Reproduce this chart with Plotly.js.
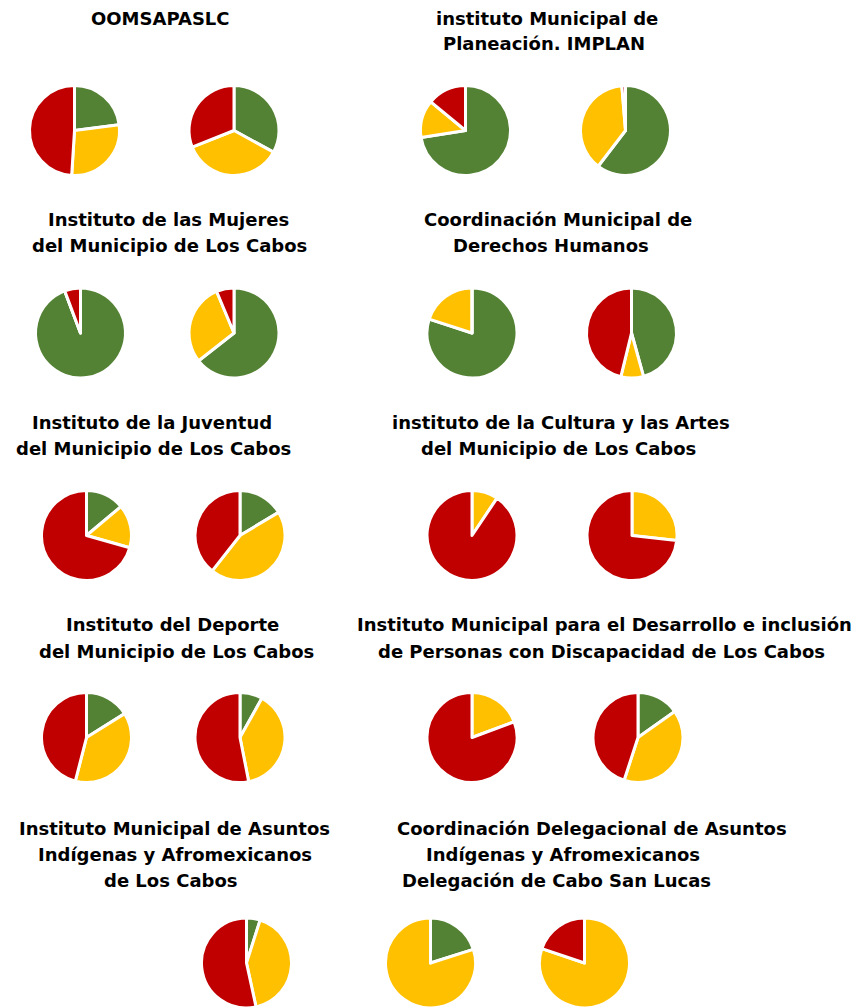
<!DOCTYPE html>
<html>
<head>
<meta charset="utf-8">
<script src="https://cdn.plot.ly/plotly-3.0.1.min.js"></script>
<style>html,body{margin:0;padding:0;background:#fff;overflow:hidden}#chart{width:856px;height:1008px}</style>
</head>
<body>
<div id="chart"></div>
<script>
// Categories (slice order, clockwise from 12 o'clock)
const categories = ['Verde', 'Amarillo', 'Rojo'];

// Titles (one entry per organism, lines)
const titles = [
  ['OOMSAPASLC'],
  ['instituto Municipal de', 'Planeación. IMPLAN'],
  ['Instituto de las Mujeres', 'del Municipio de Los Cabos'],
  ['Coordinación Municipal de', 'Derechos Humanos'],
  ['Instituto de la Juventud', 'del Municipio de Los Cabos'],
  ['instituto de la Cultura y las Artes', 'del Municipio de Los Cabos'],
  ['Instituto del Deporte', 'del Municipio de Los Cabos'],
  ['Instituto Municipal para el Desarrollo e inclusión', 'de Personas con Discapacidad de Los Cabos'],
  ['Instituto Municipal de Asuntos', 'Indígenas y Afromexicanos', 'de Los Cabos'],
  ['Coordinación Delegacional de Asuntos', 'Indígenas y Afromexicanos', 'Delegación de Cabo San Lucas']
];

// Pie values (percent) [green, yellow, red]
const oomsapaslc_1 = [23, 28, 49];
const oomsapaslc_2 = [33, 36, 31];
const implan_1 = [72.5, 13.5, 14];
const implan_2 = [60.4, 38.3, 1.3];
const mujeres_1 = [94.3, 0, 5.7];
const mujeres_2 = [64.4, 29.3, 6.3];
const derechos_1 = [80, 20, 0];
const derechos_2 = [45.7, 8.1, 46.2];
const juventud_1 = [13.9, 15.5, 70.6];
const juventud_2 = [16.4, 44.2, 39.4];
const cultura_1 = [0, 9.4, 90.6];
const cultura_2 = [0, 26.8, 73.2];
const deporte_1 = [16.1, 37.9, 46];
const deporte_2 = [8.1, 38.8, 53.1];
const discapacidad_1 = [0, 19.3, 80.7];
const discapacidad_2 = [15.2, 39.8, 45];
const indigenas_1 = [4.9, 41.7, 53.4];
const delegacion_1 = [20.1, 79.9, 0];
const delegacion_2 = [0, 80.2, 19.8];

const pieSeries = [oomsapaslc_1, oomsapaslc_2, implan_1, implan_2,
  mujeres_1, mujeres_2, derechos_1, derechos_2,
  juventud_1, juventud_2, cultura_1, cultura_2,
  deporte_1, deporte_2, discapacidad_1, discapacidad_2,
  indigenas_1, delegacion_1, delegacion_2];

// ---- layout (pixel positions) ----
const W = 856, H = 1008, R = 45;
const pieCenters = [
  [74.5,130.5],[234,130.5],[465.5,130.5],[625.5,130.5],
  [80.5,333],[234,333],[472,333],[631.5,333],
  [86.5,535.5],[240,535.5],[472,535.5],[632,535.5],
  [86.5,737.5],[240,737.5],[472,737.5],[638,737.5],
  [246.5,963],[430.5,963],[584.5,963]
];
const titleLinePos = [
  [[160.5,18]],
  [[546.5,18],[543.5,44]],
  [[168.5,219],[169,245]],
  [[558,219],[550.5,245]],
  [[152,422],[153,448]],
  [[560.5,422],[558.5,448]],
  [[172.5,624],[176,651]],
  [[604.5,624],[601.5,651]],
  [[174,828],[175,854],[170.5,880]],
  [[591.5,828],[563,854],[556.5,880]]
];
const colors = ['#548235', '#FFC000', '#C00000'];

const traces = pieSeries.map((vals, i) => {
  const [cx, cy] = pieCenters[i];
  let y0 = 1 - (cy + R) / H, y1 = 1 - (cy - R) / H;
  return {
    type: 'pie',
    labels: categories,
    values: vals,
    sort: false,
    direction: 'clockwise',
    rotation: 0,
    textinfo: 'none',
    hoverinfo: 'label+percent',
    marker: {colors: colors, line: {color: '#ffffff', width: 3}},
    domain: {x: [(cx - R) / W, (cx + R) / W], y: [Math.max(0, y0), Math.min(1, y1)]},
    showlegend: false
  };
});

const annotations = [];
titles.forEach((lines, i) => {
  lines.forEach((line, j) => {
    const [x, y] = titleLinePos[i][j];
    annotations.push({
      text: '<b>' + line + '</b>',
      x: x / W, y: 1 - y / H, xref: 'paper', yref: 'paper',
      xanchor: 'center', yanchor: 'middle', showarrow: false,
      font: {family: 'DejaVu Sans, sans-serif', size: 18, color: '#000000'}
    });
  });
});

Plotly.newPlot('chart', traces, {
  width: W, height: H,
  margin: {l: 0, r: 0, t: 0, b: 0},
  paper_bgcolor: '#ffffff',
  annotations: annotations,
  showlegend: false
}, {staticPlot: true});
</script>
</body>
</html>
